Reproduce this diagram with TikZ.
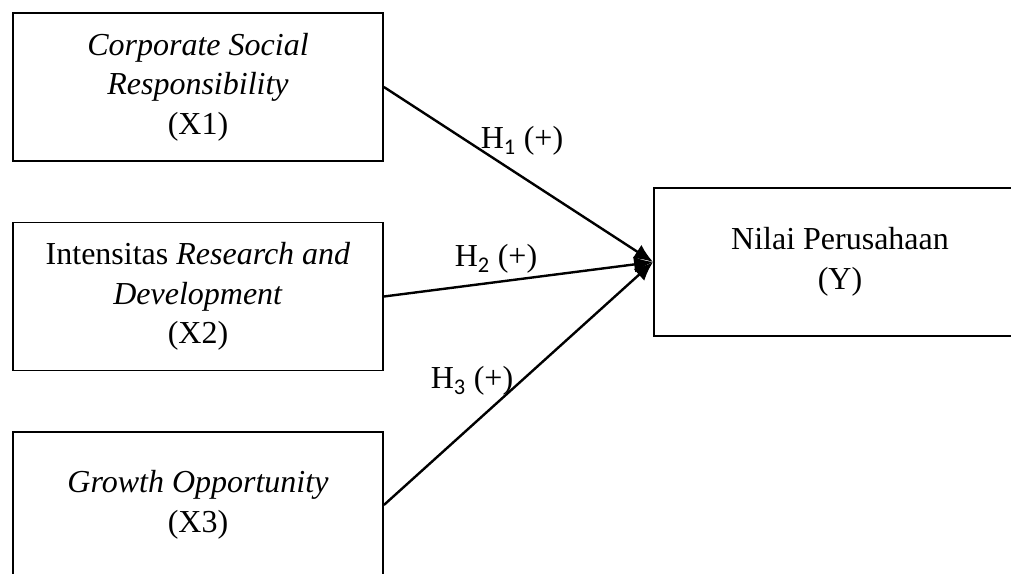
\documentclass[tikz,border=0pt]{standalone}
\usepackage{fontspec}
\setmainfont{Liberation Serif}
\newfontfamily\subfont{Carlito}
\usetikzlibrary{arrows.meta}
\newcommand{\hsub}[1]{H\textsubscript{\subfont #1}}
\begin{document}
\begin{tikzpicture}[x=1pt,y=-1pt,
var node/.style={draw,line width=1.8pt,minimum width=370pt,minimum height=148pt,
  align=center,inner sep=0pt,font=\fontsize{32}{39.5}\selectfont},
hyp node/.style={inner sep=0pt,font=\fontsize{32}{36}\selectfont},
link/.style={line width=2.4pt,-{Latex[length=19pt,width=16pt]}}]
\useasboundingbox (0,0) rectangle (1011,573);
\node[var node] (x1) at (198,87) {\textit{Corporate Social}\\\textit{Responsibility}\\(X1)};
\node[var node] (x2) at (198,296.5) {Intensitas \textit{Research and}\\\textit{Development}\\(X2)};
\node[var node,minimum height=146pt] (x3) at (198,505) {\textit{Growth Opportunity}\\(X3)};
\node[var node,minimum width=372pt] (y) at (840,262) {Nilai Perusahaan\\(Y)};

\draw [link] (x1.east) -- (y.west);
\draw [link] (x2.east) -- (y.west);
\draw [link] (x3.east) -- (y.west);

\node[hyp node] (h1) at (522,141) {\hsub{1} (+)};
\node[hyp node] (h2) at (496,259) {\hsub{2} (+)};
\node[hyp node] (h3) at (472,381) {\hsub{3} (+)};
\end{tikzpicture}
\end{document}
